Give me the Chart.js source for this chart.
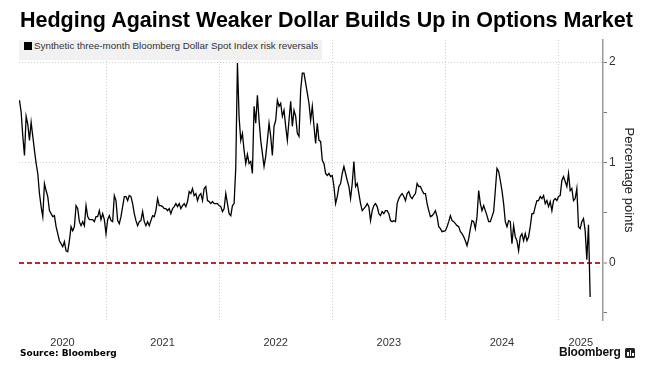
<!DOCTYPE html>
<html>
<head>
<meta charset="utf-8">
<script src="https://cdn.jsdelivr.net/npm/chart.js@4.4.1/dist/chart.umd.min.js"></script>
<style>
  html, body { margin: 0; padding: 0; background: #fff; }
  #wrap { position: relative; width: 652px; height: 374px; overflow: hidden; }
  #chart { position: absolute; left: 0; top: 0; }
  #title { position: absolute; left: 20px; top: 8px; font: bold 20px "Liberation Sans", Arial, sans-serif; color: #000; white-space: nowrap; }
  #legend { position: absolute; left: 19px; top: 40px; width: 303px; height: 20px; background: #f1f1f1; }
  #legend span { position: absolute; left: 5px; top: 0; line-height: 20px; font: 10.5px "Liberation Sans", Arial, sans-serif; color: #333; white-space: nowrap; }
  #legend i { display: inline-block; width: 8px; height: 8px; background: #000; margin-right: 2px; vertical-align: -1px; }
  #source { position: absolute; left: 20px; top: 348px; font: bold 9px "DejaVu Sans", sans-serif; color: #000; }
  #logo { position: absolute; left: 559px; top: 345px; font: bold 12px "Liberation Sans", Arial, sans-serif; color: #111; letter-spacing: -0.2px; }
  #logo b { position: absolute; left: 66px; top: 3px; width: 10px; height: 10px; background: #222; border-radius: 1.5px; }
  #logo b i { position: absolute; bottom: 2px; width: 1.5px; background: #fff; }
</style>
</head>
<body>
<div id="wrap">
  <canvas id="chart" width="652" height="374"></canvas>
  <div id="title">Hedging Against Weaker Dollar Builds Up in Options Market</div>
  <div id="legend"><span><i></i>Synthetic three-month Bloomberg Dollar Spot Index risk reversals</span></div>
  <div id="source">Source: Bloomberg</div>
  <div id="logo">Bloomberg<b><i style="left:2px;height:4px"></i><i style="left:4.5px;height:6px"></i><i style="left:7px;height:3px"></i></b></div>
</div>
<script>
// risk reversal readings, about 68 samples per calendar year
const samplesPerYear = 68;

// 2020 starts late March (sample 16 of the year)
const values2020 = [1.62, 1.50, 1.26, 1.07, 1.46, 1.38, 1.22, 1.40, 1.26, 1.12, 0.99, 0.89, 0.69, 0.56, 0.46, 0.79,
  0.72, 0.66, 0.52, 0.49, 0.46, 0.47, 0.36, 0.29, 0.22, 0.19, 0.16, 0.21, 0.12, 0.11, 0.22, 0.36, 0.32, 0.36,
  0.57, 0.54, 0.41, 0.37, 0.41, 0.37, 0.57, 0.46, 0.43, 0.43, 0.43, 0.41, 0.46, 0.46, 0.52, 0.43, 0.49, 0.43];
const values2021 = [0.29, 0.43, 0.47, 0.42, 0.41, 0.67, 0.62, 0.42, 0.39, 0.46, 0.56, 0.66, 0.66, 0.62, 0.67, 0.66,
  0.59, 0.49, 0.42, 0.37, 0.41, 0.42, 0.51, 0.41, 0.37, 0.41, 0.37, 0.42, 0.47, 0.46, 0.52, 0.64, 0.57, 0.57,
  0.56, 0.54, 0.54, 0.52, 0.54, 0.49, 0.54, 0.56, 0.59, 0.56, 0.59, 0.54, 0.57, 0.59, 0.56, 0.61, 0.71, 0.69,
  0.74, 0.67, 0.69, 0.62, 0.67, 0.69, 0.62, 0.74, 0.76, 0.62, 0.61, 0.59, 0.61, 0.59, 0.59, 0.59];
const values2022 = [0.57, 0.56, 0.51, 0.54, 0.69, 0.59, 0.49, 0.47, 0.57, 0.59, 0.95, 1.99, 1.45, 1.22, 1.29, 1.12,
  0.99, 1.08, 0.99, 1.01, 0.89, 1.56, 1.39, 1.67, 1.42, 1.22, 1.09, 0.96, 1.06, 1.22, 1.39, 1.26, 1.07, 1.36,
  1.42, 1.62, 1.56, 1.59, 1.46, 1.52, 1.36, 1.22, 1.42, 1.61, 1.36, 1.52, 1.46, 1.29, 1.26, 1.72, 1.89, 1.89,
  1.79, 1.69, 1.59, 1.42, 1.56, 1.36, 1.19, 1.39, 1.22, 1.21, 1.02, 0.99, 0.89, 0.87, 0.89, 0.86];
const values2023 = [0.87, 0.76, 0.59, 0.66, 0.76, 0.79, 0.89, 0.96, 0.89, 0.82, 0.76, 0.64, 0.79, 1.01, 0.76, 0.79,
  0.69, 0.59, 0.52, 0.54, 0.56, 0.59, 0.56, 0.42, 0.52, 0.57, 0.59, 0.56, 0.49, 0.47, 0.51, 0.49, 0.52, 0.52,
  0.49, 0.42, 0.41, 0.42, 0.41, 0.59, 0.64, 0.67, 0.69, 0.66, 0.62, 0.69, 0.71, 0.66, 0.64, 0.67, 0.69, 0.79,
  0.76, 0.76, 0.72, 0.69, 0.69, 0.59, 0.52, 0.46, 0.47, 0.49, 0.52, 0.46, 0.36, 0.34, 0.31];
const values2024 = [0.32, 0.36, 0.41, 0.47, 0.42, 0.41, 0.39, 0.37, 0.36, 0.31, 0.29, 0.26, 0.22, 0.17, 0.24, 0.34,
  0.42, 0.41, 0.34, 0.46, 0.72, 0.59, 0.52, 0.57, 0.52, 0.47, 0.41, 0.41, 0.46, 0.51, 0.72, 0.94, 0.91, 0.82,
  0.72, 0.59, 0.41, 0.36, 0.42, 0.41, 0.19, 0.37, 0.26, 0.22, 0.12, 0.26, 0.29, 0.22, 0.29, 0.22, 0.26, 0.36,
  0.49, 0.49, 0.56, 0.62, 0.62, 0.66, 0.64, 0.67, 0.59, 0.62, 0.56, 0.61, 0.52, 0.62, 0.64, 0.62];
const values2025 = [0.66, 0.67, 0.82, 0.86, 0.81, 0.76, 0.89, 0.72, 0.74, 0.62, 0.64, 0.74, 0.36, 0.34, 0.41, 0.44,
  0.32, 0.03, 0.38, -0.34];

const years = [2020, 2021, 2022, 2023, 2024, 2025];
const yearValues = [values2020, values2021, values2022, values2023, values2024, values2025];
const firstSample = [16, 0, 0, 0, 0, 0];
const yearLabels = ['2020', '2021', '2022', '2023', '2024', '2025'];

const xMin = 2020.231, xMax = 2025.393;
const yMin = -0.57, yMax = 2.22;
const yTickValues = [-0.5, 0, 0.5, 1, 1.5, 2];

const points = [];
years.forEach((yr, k) => {
  yearValues[k].forEach((v, j) => {
    points.push({ x: yr + (firstSample[k] + j) / samplesPerYear, y: v });
  });
});

// year boundaries carry the grid, labels sit mid-way in the visible part of each year
const xTicks = [];
years.forEach((yr, k) => {
  if (yr > xMin) xTicks.push({ value: yr, edge: true });
  const a = Math.max(yr, xMin), b = Math.min(yr + 1, xMax);
  xTicks.push({ value: (a + b) / 2, name: yearLabels[k] });
});
xTicks.sort((p, q) => p.value - q.value);

const font = 'Liberation Sans, Arial, sans-serif';

new Chart(document.getElementById('chart').getContext('2d'), {
  type: 'line',
  data: {
    datasets: [{
      data: points,
      borderColor: '#000',
      borderWidth: 1.3,
      pointRadius: 0,
      tension: 0,
      fill: false
    }]
  },
  options: {
    responsive: false,
    animation: false,
    layout: { padding: { left: 19, top: 40, right: 0, bottom: 0 } },
    plugins: { legend: { display: false }, tooltip: { enabled: false } },
    scales: {
      x: {
        type: 'linear',
        min: xMin,
        max: xMax,
        afterBuildTicks: s => { s.ticks = xTicks.map(t => Object.assign({}, t)); },
        afterFit: s => { s.height = 54; },
        ticks: {
          autoSkip: false,
          maxRotation: 0,
          padding: 16,
          color: '#333',
          font: { family: font, size: 11 },
          callback: (v, i, ticks) => ticks[i].name || ''
        },
        grid: {
          drawTicks: false,
          color: c => (c.tick && c.tick.edge) ? '#cfcfcf' : 'rgba(0,0,0,0)'
        },
        border: { display: false, dash: [1, 2] }
      },
      y: {
        position: 'right',
        min: yMin,
        max: yMax,
        afterBuildTicks: s => { s.ticks = yTickValues.map(v => ({ value: v })); },
        afterFit: s => { s.width = 49; },
        ticks: {
          padding: 2,
          color: '#333',
          font: { family: font, size: 12 },
          callback: v => Number.isInteger(v) ? String(v) : ''
        },
        grid: {
          color: c => {
            const v = c.tick ? c.tick.value : null;
            if (v === 0) return '#cc2222';
            return Number.isInteger(v) ? '#cfcfcf' : 'rgba(0,0,0,0)';
          },
          lineWidth: c => (c.tick && c.tick.value === 0) ? 2 : 1,
          tickLength: 4,
          tickColor: '#777',
          tickWidth: 1
        },
        border: {
          color: '#999',
          width: 1.5,
          dash: c => (c.tick && c.tick.value === 0) ? [5, 3] : [1, 2]
        },
        title: {
          display: true,
          text: 'Percentage points',
          color: '#222',
          font: { family: font, size: 13 },
          padding: { top: 16 }
        }
      }
    }
  }
});

function fitWidth(el, target) {
  const size = parseFloat(getComputedStyle(el).fontSize);
  const w = el.getBoundingClientRect().width;
  el.style.fontSize = (size * target / w).toFixed(2) + 'px';
}
fitWidth(document.getElementById('title'), 613);
fitWidth(document.querySelector('#legend span'), 294);
</script>
</body>
</html>
